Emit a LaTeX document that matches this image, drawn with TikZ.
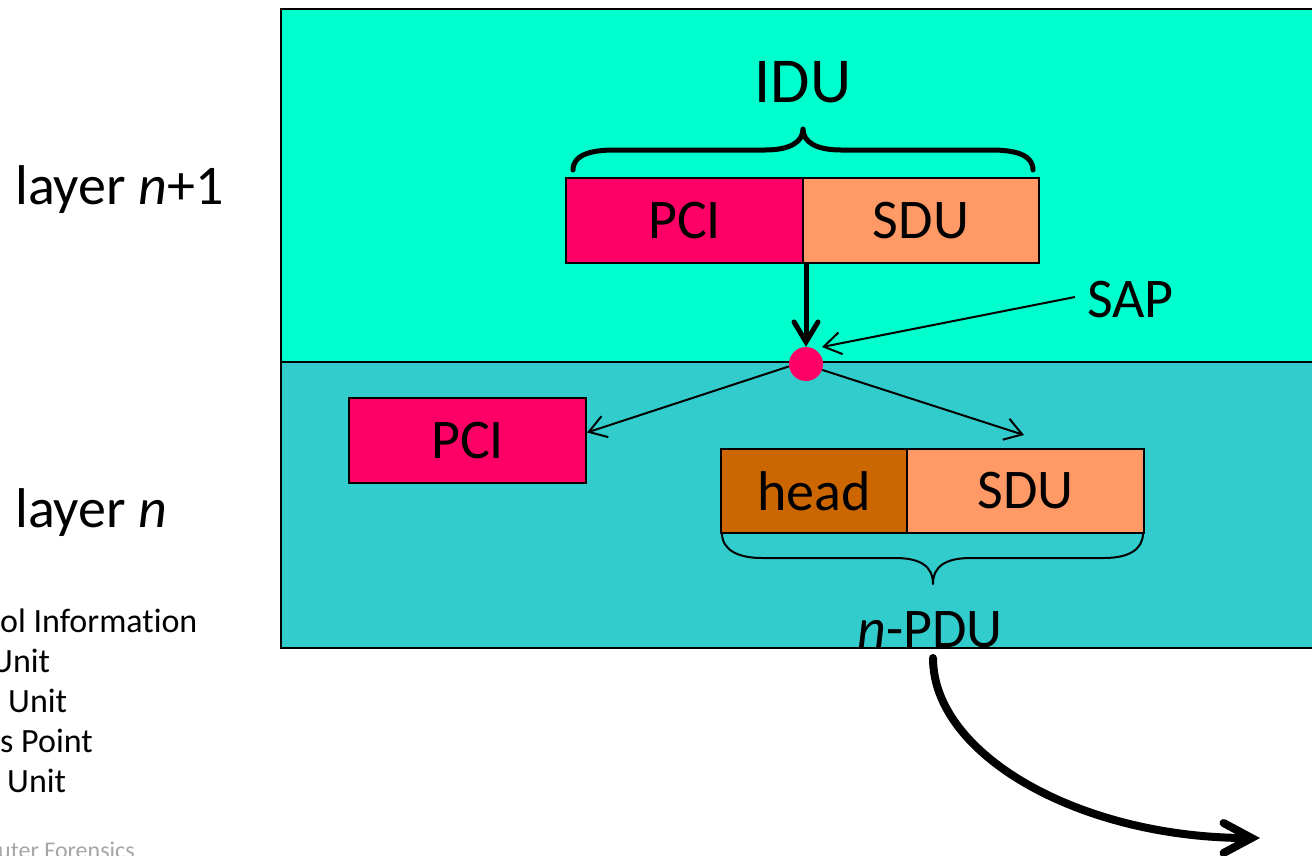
\documentclass[tikz,border=0pt]{standalone}
\usepackage{fontspec}
\setmainfont[Ligatures=NoCommon]{Carlito}
\usetikzlibrary{arrows.meta}

\definecolor{upperbg}{HTML}{00FFCC}
\definecolor{lowerbg}{HTML}{33CCCC}
\definecolor{pcired}{HTML}{FF0066}
\definecolor{sduorange}{HTML}{FF9966}
\definecolor{headbrown}{HTML}{CC6600}
\definecolor{footgray}{HTML}{A6A6A6}

\tikzset{
  layerarea/.style={draw=black, line width=2pt},
  cell/.style={draw=black, line width=2pt, inner sep=0pt, font=\fontsize{56}{64}\selectfont},
  bigtext/.style={inner sep=0pt, font=\fontsize{56}{64}\selectfont},
  legendtext/.style={inner sep=0pt, anchor=base west, font=\fontsize{34}{40}\selectfont},
  thinarrow/.style={line width=2pt, -{Straight Barb[length=17pt,width=22pt]}},
  downarrow/.style={line width=5pt, -{Straight Barb[length=20pt,width=24pt,line cap=round]}},
  bigarrow/.style={line width=8pt, line cap=round, -{Straight Barb[length=28pt,width=30pt,line cap=round]}},
  bracket/.style={line width=#1, line cap=round, line join=round},
}

\begin{document}
\begin{tikzpicture}[x=1pt, y=-1pt]
\useasboundingbox (0,0) rectangle (1312,855);
\clip (0,0) rectangle (1312,855);

% the two layers
\draw[layerarea, fill=upperbg] (281,9) rectangle (1330,362);
\draw[layerarea, fill=lowerbg] (281,362) rectangle (1330,648);

% layer labels
\node[bigtext, anchor=west] (upperlabel) at (15,190) {layer \textit{n}+1};
\node[bigtext, anchor=west] (lowerlabel) at (15,513) {layer \textit{n}};

% legend, running off the left edge
\node[legendtext] (leg1) at (0,632) {ol Information};
\node[legendtext] (leg2) at (-9,672) {Unit};
\node[legendtext] (leg3) at (8,712) {Unit};
\node[legendtext] (leg4) at (0,752) {s Point};
\node[legendtext] (leg5) at (7,792) {Unit};
\node[inner sep=0pt, anchor=base west, text=footgray, font=\fontsize{24}{28}\selectfont] (foot) at (-2,858) {uter Forensics};

% interface data unit of layer n+1
\node[cell, fill=pcired, minimum width=237pt, minimum height=85pt] (pciup) at (684.5,220.5) {PCI};
\node[cell, fill=sduorange, minimum width=236pt, minimum height=85pt] (sduup) at (921,220.5) {SDU};
\node[bigtext, font=\fontsize{64}{72}\selectfont] (idu) at (803,82) {IDU};
\draw[bracket=5pt] (573,170) .. controls (573,155) and (590,150) .. (615,150) -- (765,150)
  .. controls (790,150) and (803,142) .. (803,129)
  .. controls (803,142) and (816,150) .. (841,150) -- (991,150)
  .. controls (1016,150) and (1033,155) .. (1033,170);

% service access point
\node[circle, fill=pcired, minimum size=34pt, inner sep=0pt] (sap) at (806,364) {};
\node[bigtext, anchor=west] (saplabel) at (1087,300) {SAP};
\coordinate (saptip) at (822,347);
\draw[thinarrow] (saplabel.west) ++(-12,-3) -- (saptip);
\draw[downarrow] (sap |- pciup.south) -- (sap.north);

% layer n pieces
\node[cell, fill=pcired, minimum width=237pt, minimum height=85pt] (pcilow) at (467.5,440.5) {PCI};
\node[cell, fill=headbrown, minimum width=186pt, minimum height=84pt] (head) at (814,491) {head};
\node[cell, fill=sduorange, minimum width=237pt, minimum height=84pt] (sdulow) at (1025.5,491) {SDU};
\coordinate (sdutip) at (1024,435);
\draw[thinarrow] (sap.188) -- ([yshift=8pt]pcilow.east);
\draw[thinarrow] (sap.-20) -- (sdutip);

% protocol data unit of layer n
\draw[bracket=2pt] (722,533) .. controls (722,550) and (738,558) .. (762,558) -- (895,558)
  .. controls (920,558) and (933,566) .. (933,584)
  .. controls (933,566) and (946,558) .. (971,558) -- (1104,558)
  .. controls (1128,558) and (1143,550) .. (1143,533);
\node[bigtext, anchor=base] (pdu) at (930,647) {\textit{n}-PDU};

% handed down to the next layer
\coordinate (handoff) at (1260,838);
\draw[bigarrow] (933,658) .. controls (933,755) and (1080,838) .. (handoff);
\end{tikzpicture}
\end{document}
